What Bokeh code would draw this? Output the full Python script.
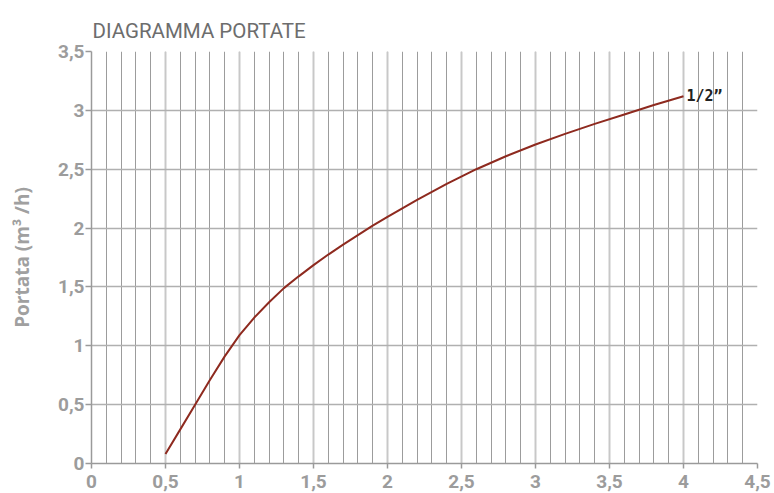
from bokeh.plotting import figure
from bokeh.models import SingleIntervalTicker, CustomJSTickFormatter, Label, Range1d
from bokeh.embed import file_html
from bokeh.resources import INLINE

# Data
velocity = [0.5, 0.6, 0.7, 0.8, 0.9, 1.0, 1.1, 1.2, 1.3, 1.4, 1.5, 1.6, 1.7, 1.8, 1.9,
            2.0, 2.2, 2.4, 2.6, 2.8, 3.0, 3.2, 3.4, 3.6, 3.8, 4.0]
portata = [0.08, 0.29, 0.50, 0.71, 0.91, 1.09, 1.24, 1.37, 1.49, 1.59, 1.685, 1.775, 1.86, 1.94, 2.02,
           2.095, 2.24, 2.375, 2.50, 2.61, 2.71, 2.80, 2.885, 2.965, 3.045, 3.12]
series_name = "1/2\u201d"
chart_title = "DIAGRAMMA PORTATE"
y_label = "Portata (m\u00b3 /h)"
x_range = (0, 4.5)
y_range = (0, 3.5)

p = figure(width=774, height=493, output_backend="svg", toolbar_location=None,
           x_range=Range1d(*x_range), y_range=Range1d(*y_range),
           title=chart_title, title_location="above",
           min_border_left=91, min_border_right=17, min_border_top=51, min_border_bottom=30)
p.outline_line_color = None
p.background_fill_color = "white"
p.border_fill_color = "white"

p.title.text_font = "Roboto"
p.title.text_font_style = "normal"
p.title.text_font_size = "20.5px"
p.title.text_color = "#6d6d6d"
p.title.align = "left"
p.title.offset = 1
p.title.standoff = 18

fmt = CustomJSTickFormatter(code="return (Math.round(tick*10)/10).toString().replace('.', ',');")

p.xaxis.ticker = SingleIntervalTicker(interval=0.5, num_minor_ticks=5)
p.yaxis.ticker = SingleIntervalTicker(interval=0.5, num_minor_ticks=0)
p.xgrid.ticker = p.xaxis.ticker
p.ygrid.ticker = p.yaxis.ticker

for ax in (p.xaxis, p.yaxis):
    ax.formatter = fmt
    ax.axis_line_color = "#9a9a9a"
    ax.axis_line_width = 1.5
    ax.major_tick_line_color = "#9a9a9a"
    ax.major_tick_line_width = 1.5
    ax.major_tick_in = 0
    ax.minor_tick_line_color = None
    ax.major_label_text_font = "Roboto"
    ax.major_label_text_font_style = "bold"
    ax.major_label_text_font_size = "19px"
    ax.major_label_text_color = "#9c9c9c"

p.xaxis.major_tick_out = 5
p.xaxis.major_label_standoff = 6
p.yaxis.major_tick_out = 6
p.yaxis.major_label_standoff = 1

p.yaxis.axis_label = y_label
p.yaxis.axis_label_text_font = "Open Sans"
p.yaxis.axis_label_text_font_style = "bold"
p.yaxis.axis_label_text_font_size = "19px"
p.yaxis.axis_label_text_color = "#a0a0a0"
p.yaxis.axis_label_standoff = 20

p.xgrid.grid_line_color = "#c8c8c8"
p.xgrid.grid_line_width = 2
p.xgrid.minor_grid_line_color = "#9c9c9c"
p.xgrid.minor_grid_line_width = 1
p.ygrid.grid_line_color = "#b0b0b0"
p.ygrid.grid_line_width = 1.5

p.line(velocity, portata, line_color="#8e2a1f", line_width=2, line_join="round")

p.add_layout(Label(x=velocity[-1], y=portata[-1], text=series_name, x_offset=3, y_offset=0,
                   text_font="DejaVu Sans Mono", text_font_style="bold", text_font_size="15px",
                   text_color="#222222", text_baseline="middle"))

open("out.html", "w").write(file_html(p, INLINE))
